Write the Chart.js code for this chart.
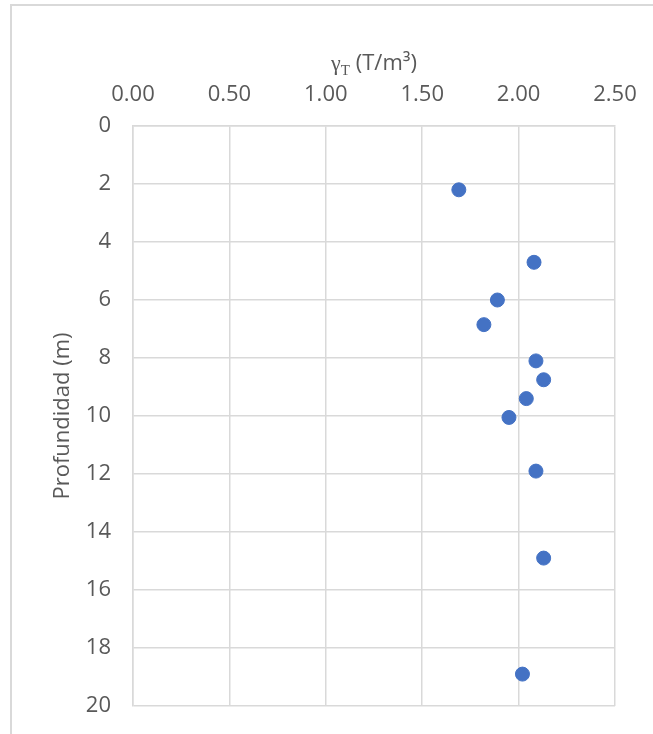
<!DOCTYPE html>
<html>
<head>
<meta charset="utf-8">
<script src="https://cdn.jsdelivr.net/npm/chart.js@4/dist/chart.umd.min.js"></script>
<style>
  html, body { margin: 0; padding: 0; background: #fff; }
  #wrap { position: relative; width: 653px; height: 734px; overflow: hidden; }
  #frame { position: absolute; left: 10px; top: 4px; width: 700px; height: 800px;
           border-top: 2px solid #d9d9d9; border-left: 2px solid #d9d9d9; }
  canvas { position: absolute; left: 0; top: 0; }
</style>
</head>
<body>
<div id="wrap">
  <div id="frame"></div>
  <canvas id="myChart" width="653" height="734"></canvas>
</div>
<script>
// peso unitario (T/m3) vs profundidad (m)
let gammaT = [1.69, 2.08, 1.89, 1.82, 2.09, 2.13, 2.04, 1.95, 2.09, 2.13, 2.02];
let depth = [2.2, 4.7, 6.0, 6.85, 8.1, 8.75, 9.4, 10.05, 11.9, 14.9, 18.9];
let xTitle = ['γ', 'T', ' (T/m³)'];
let yTitle = 'Profundidad (m)';

let points = gammaT.map((g, i) => ({ x: g, y: depth[i] }));

let gridColor = '#d9d9d9';
let textColor = '#595959';
let tickFont = { family: '"Open Sans"', size: 22 };

// titulos de ejes dibujados a mano (subindice en gamma)
let axisTitles = {
    id: 'axisTitles',
    afterDraw(chart) {
        let ctx = chart.ctx;
        let area = chart.chartArea;
        ctx.save();
        ctx.fillStyle = textColor;
        ctx.textBaseline = 'alphabetic';
        ctx.textAlign = 'left';

        let parts = [
            { t: xTitle[0], font: '22px "Liberation Serif"', dy: 0 },
            { t: xTitle[1], font: '15px "Liberation Serif"', dy: 5 },
            { t: xTitle[2], font: '22px "Open Sans"', dy: 0 }
        ];
        let total = 0;
        parts.forEach(p => { ctx.font = p.font; p.w = ctx.measureText(p.t).width; total += p.w; });
        let x = (area.left + area.right) / 2 - total / 2;
        let base = 70;
        parts.forEach(p => {
            ctx.font = p.font;
            ctx.fillText(p.t, x, base + p.dy);
            x += p.w;
        });

        ctx.translate(63, (area.top + area.bottom) / 2);
        ctx.rotate(-Math.PI / 2);
        ctx.textAlign = 'center';
        ctx.textBaseline = 'middle';
        ctx.font = '22px "Open Sans"';
        ctx.fillText(yTitle, 0, 0);
        ctx.restore();
    }
};

let chart = new Chart(document.getElementById('myChart').getContext('2d'), {
    type: 'scatter',
    data: {
        datasets: [{
            data: points,
            backgroundColor: '#4472C4',
            borderColor: '#4472C4',
            pointRadius: 7,
            pointHoverRadius: 7
        }]
    },
    options: {
        responsive: false,
        animation: false,
        layout: { padding: { top: 0, right: 38, bottom: 28, left: 0 } },
        plugins: {
            legend: { display: false },
            tooltip: { enabled: false }
        },
        scales: {
            x: {
                type: 'linear',
                position: 'top',
                min: 0,
                max: 2.5,
                ticks: {
                    stepSize: 0.5,
                    color: textColor,
                    font: tickFont,
                    padding: 18,
                    callback: v => v.toFixed(2)
                },
                grid: { color: gridColor, lineWidth: 1.5, drawTicks: false },
                border: { display: true, color: gridColor, width: 1.5 },
                afterFit: s => { s.height = 126; s.paddingLeft = 0; s.paddingRight = 0; }
            },
            y: {
                type: 'linear',
                reverse: true,
                min: 0,
                max: 20,
                ticks: {
                    stepSize: 2,
                    color: textColor,
                    font: tickFont,
                    padding: 22
                },
                grid: { color: gridColor, lineWidth: 1.5, drawTicks: false },
                border: { display: true, color: gridColor, width: 1.5 },
                afterFit: s => { s.width = 133; s.paddingTop = 0; s.paddingBottom = 0; }
            }
        }
    },
    plugins: [axisTitles]
});
</script>
</body>
</html>
